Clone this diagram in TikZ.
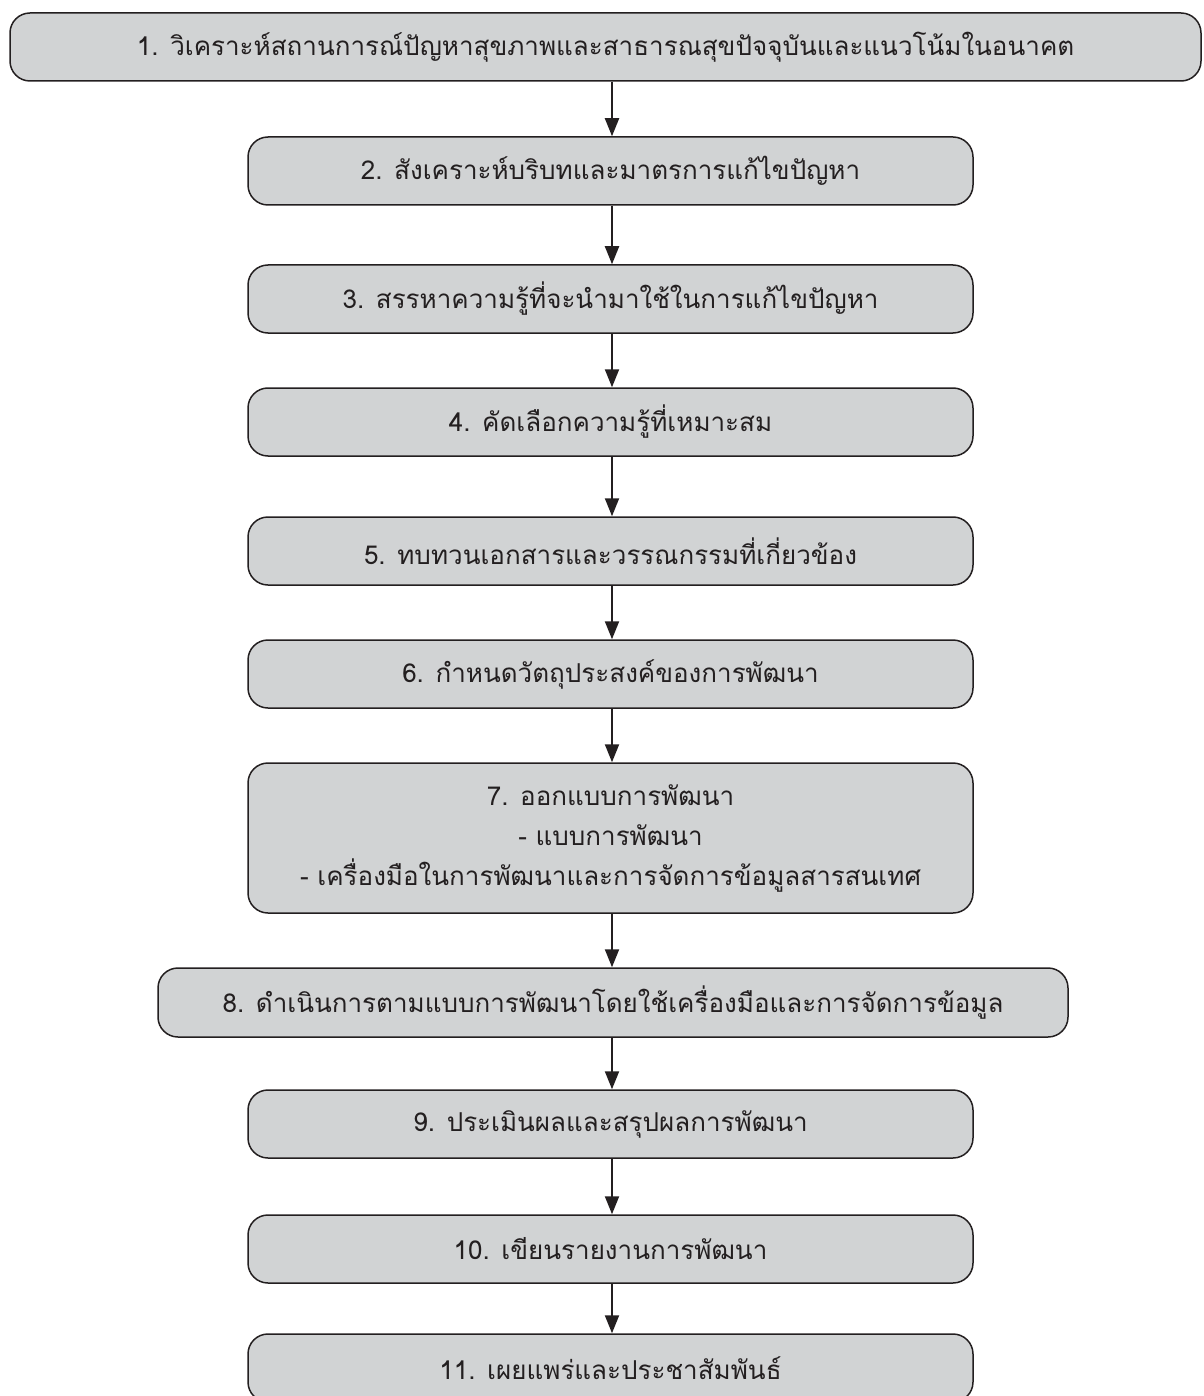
\documentclass[tikz,border=0pt]{standalone}
\usepackage{fontspec}
\newfontfamily\thaifont[Script=Thai]{Loma}
\usetikzlibrary{arrows.meta}
\definecolor{boxfill}{HTML}{D1D3D4}
\definecolor{ink}{HTML}{231F20}
\begin{document}
\begin{tikzpicture}[x=1pt,y=-1pt,
  stepbox/.style={draw=ink, line width=1.5pt, fill=boxfill, rounded corners=20pt,
    minimum height=68pt, inner sep=0pt, text=ink, font=\thaifont\fontsize{26}{40}\selectfont, align=center},
  flowarrow/.style={draw=ink, line width=2pt, -{Triangle[length=18pt,width=14pt]}}]
\useasboundingbox (0,0) rectangle (1203,1396);
\coordinate (ax) at (612,0);
\node[stepbox, minimum width=1191pt] (b1) at (605.5,47) {1. วิเคราะห์สถานการณ์ปัญหาสุขภาพและสาธารณสุขปัจจุบันและแนวโน้มในอนาคต};
\node[stepbox, minimum width=725pt] (b2) at (610.5,171) {2. สังเคราะห์บริบทและมาตรการแก้ไขปัญหา};
\node[stepbox, minimum width=725pt] (b3) at (610.5,299) {3. สรรหาความรู้ที่จะนำมาใช้ในการแก้ไขปัญหา};
\node[stepbox, minimum width=725pt] (b4) at (610.5,422) {4. คัดเลือกความรู้ที่เหมาะสม};
\node[stepbox, minimum width=725pt] (b5) at (610.5,551) {5. ทบทวนเอกสารและวรรณกรรมที่เกี่ยวข้อง};
\node[stepbox, minimum width=725pt] (b6) at (610.5,674) {6. กำหนดวัตถุประสงค์ของการพัฒนา};
\node[stepbox, minimum width=725pt, minimum height=150pt] (b7) at (610.5,838) {7. ออกแบบการพัฒนา\\- แบบการพัฒนา\\- เครื่องมือในการพัฒนาและการจัดการข้อมูลสารสนเทศ};
\node[stepbox, minimum width=910pt, minimum height=69pt] (b8) at (613,1002.5) {8. ดำเนินการตามแบบการพัฒนาโดยใช้เครื่องมือและการจัดการข้อมูล};
\node[stepbox, minimum width=725pt] (b9) at (610.5,1124) {9. ประเมินผลและสรุปผลการพัฒนา};
\node[stepbox, minimum width=725pt] (b10) at (610.5,1249) {10. เขียนรายงานการพัฒนา};
\node[stepbox, minimum width=725pt] (b11) at (610.5,1368) {11. เผยแพร่และประชาสัมพันธ์};
\foreach \a/\b in {b1/b2,b2/b3,b3/b4,b4/b5,b5/b6,b6/b7,b7/b8,b8/b9,b9/b10,b10/b11}
  \draw[flowarrow] (\a.south -| ax) -- (\b.north -| ax);
\end{tikzpicture}
\end{document}
